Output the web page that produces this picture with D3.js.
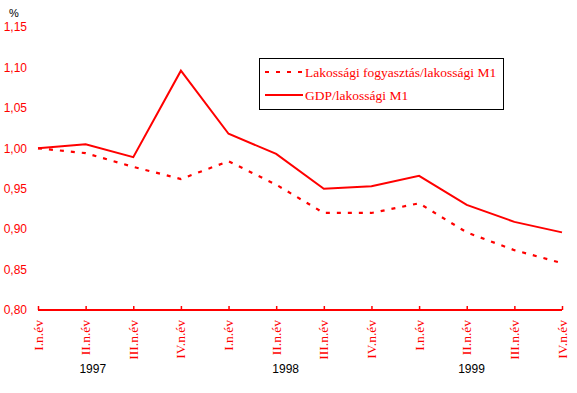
<!DOCTYPE html>
<html><head><meta charset="utf-8">
<script src="https://cdn.jsdelivr.net/npm/d3@7"></script>
<style>body{margin:0;background:#fff}svg{display:block}</style>
</head><body>
<script>
const categories = ["I.n.év","II.n.év","III.n.év","IV.n.év","I.n.év","II.n.év","III.n.év","IV.n.év","I.n.év","II.n.év","III.n.év","IV.n.év"];
const years = [{label:"1997", at:1.15}, {label:"1998", at:5.2}, {label:"1999", at:9.1}];
const consumption = [1.000,0.994,0.977,0.962,0.984,0.955,0.920,0.920,0.932,0.896,0.874,0.858];
const gdp = [1.000,1.005,0.989,1.096,1.018,0.993,0.950,0.953,0.966,0.930,0.909,0.896];
const yTicks = [0.80,0.85,0.90,0.95,1.00,1.05,1.10,1.15];
const seriesNames = ["Lakossági fogyasztás/lakossági M1","GDP/lakossági M1"];

const W=577,H=393,red="#ff0000";
const svg=d3.select("body").append("svg").attr("width",W).attr("height",H);
const x=d3.scaleLinear().domain([0,11]).range([38,562]);
const y=d3.scaleLinear().domain([0.80,1.15]).range([310,27]);
const fmt=d=>d3.format(".2f")(d).replace(".",",");

// y labels
svg.append("g").selectAll("text").data(yTicks).join("text")
  .attr("x",27).attr("y",d=>y(d)).attr("dy","0.36em").attr("text-anchor","end")
  .attr("fill",red).attr("font-family","Liberation Sans, Arial, sans-serif").attr("font-size",12)
  .text(fmt);
svg.append("text").attr("x",9).attr("y",17).attr("font-family","Liberation Sans, Arial, sans-serif")
  .attr("font-size",11).attr("fill","#000").text("%");

// x axis
const xAxis=d3.axisBottom(x).tickValues(d3.range(12)).tickSize(-3).tickFormat("");
const gx=svg.append("g").attr("transform","translate(0,310)").call(xAxis);
gx.select(".domain").attr("stroke",red).attr("stroke-width",2).attr("d","M38,0H562");
gx.selectAll(".tick line").attr("stroke",red).attr("stroke-width",1.5).attr("y2",-4);
svg.append("g").selectAll("text").data(categories).join("text")
  .attr("transform",(d,i)=>`translate(${x(i)+4.5},320) rotate(-90)`)
  .attr("text-anchor","end").attr("fill",red)
  .attr("font-family","Liberation Serif, Times New Roman, serif").attr("font-size",13.5)
  .text(d=>d);
svg.append("g").selectAll("text").data(years).join("text")
  .attr("x",d=>x(d.at)).attr("y",373).attr("text-anchor","middle")
  .attr("font-family","Liberation Sans, Arial, sans-serif").attr("font-size",12).attr("fill","#000")
  .text(d=>d.label);

// lines
const line=d3.line().x((d,i)=>x(i)).y(d=>y(d));
svg.append("path").datum(consumption).attr("d",line).attr("fill","none")
  .attr("stroke",red).attr("stroke-width",2.2).attr("stroke-dasharray","4,7");
svg.append("path").datum(gdp).attr("d",line).attr("fill","none")
  .attr("stroke",red).attr("stroke-width",2);

// legend
const lg=svg.append("g");
lg.append("rect").attr("x",259.5).attr("y",58.5).attr("width",244).attr("height",51)
  .attr("fill","#fff").attr("stroke","#000").attr("stroke-width",1);
const items=[{dash:"4,7",y:72},{dash:null,y:95}];
items.forEach((it,i)=>{
  lg.append("line").attr("x1",265).attr("x2",303).attr("y1",it.y).attr("y2",it.y)
    .attr("stroke",red).attr("stroke-width",2).attr("stroke-dasharray",it.dash);
  lg.append("text").attr("x",305).attr("y",it.y).attr("dy","0.35em").attr("fill",red)
    .attr("font-family","Liberation Serif, Times New Roman, serif").attr("font-size",13.5)
    .text(seriesNames[i]);
});
</script>
</body></html>
